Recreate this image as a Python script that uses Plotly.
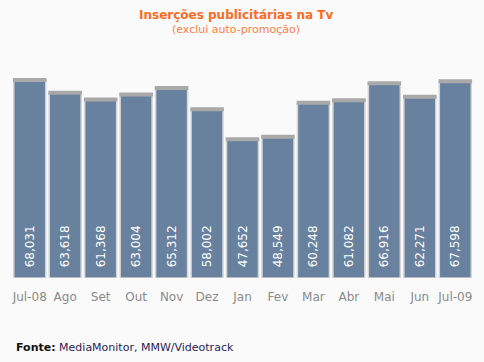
import plotly.graph_objects as go

months = ["Jul-08", "Ago", "Set", "Out", "Nov", "Dez", "Jan", "Fev", "Mar", "Abr", "Mai", "Jun", "Jul-09"]
values = [68031, 63618, 61368, 63004, 65312, 58002, 47652, 48549, 60248, 61082, 66916, 62271, 67598]
labels = ["\u00a0\u00a0" + f"{v:,}" for v in values]

fig = go.Figure()
fig.add_trace(go.Bar(
    x=months, y=values, text=labels,
    textposition="inside", insidetextanchor="start", textangle=-90,
    textfont=dict(family="DejaVu Sans", size=12, color="white"),
    marker=dict(color="#67819f", line=dict(color="#d4d4d4", width=1.5)),
    hoverinfo="skip", cliponaxis=False,
))
# gray top caps
fig.add_trace(go.Scatter(
    x=months, y=values, mode="markers",
    marker=dict(symbol="line-ew", size=24, line=dict(color="#a9a9a9", width=4)),
    hoverinfo="skip", cliponaxis=False,
))

L, R, T, B = 12, 11, 60, 84
fig.update_layout(
    width=484, height=362,
    paper_bgcolor="#fafafa", plot_bgcolor="#fafafa",
    margin=dict(l=L, r=R, t=T, b=B, autoexpand=False),
    bargap=0.1, showlegend=False,
    xaxis=dict(showgrid=False, showline=False, ticks="", zeroline=False, automargin=False,
               range=[-0.5, len(months) - 0.5], fixedrange=True, ticklabelstandoff=10,
               tickfont=dict(family="DejaVu Sans", size=12, color="#8a8a8a")),
    yaxis=dict(visible=False, range=[0, 74900], automargin=False),
    annotations=[
        dict(text="<b>Inserções publicitárias na Tv</b>", x=236, y=15, xref="paper", yref="paper",
             xanchor="center", yanchor="middle",
             showarrow=False, font=dict(family="DejaVu Sans", size=12, color="#ff6a1f")),
        dict(text="(exclui auto-promoção)", x=236, y=29, xref="paper", yref="paper",
             xanchor="center", yanchor="middle",
             showarrow=False, font=dict(family="DejaVu Sans", size=11, color="#ff7f40")),
        dict(text="<b>Fonte:</b> <span style='color:#2b1d5c'>MediaMonitor, MMW/Videotrack</span>",
             x=14, y=347, xref="paper", yref="paper", xanchor="left", yanchor="middle", showarrow=False,
             font=dict(family="DejaVu Sans", size=11, color="#111111")),
    ],
)
pw, ph = 484 - L - R, 362 - T - B
for a in fig.layout.annotations:
    a.x = (a.x - L) / pw
    a.y = (362 - B - a.y) / ph
fig.write_html("out.html", config={"displayModeBar": False},
               post_script="document.body.style.margin='0';document.body.style.background='#fafafa';")
